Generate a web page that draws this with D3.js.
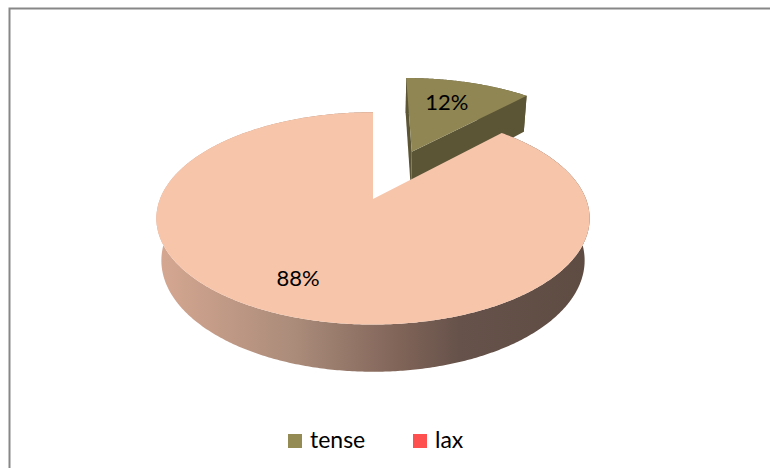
<!DOCTYPE html>
<html>
<head>
<meta charset="utf-8">
<script src="https://cdn.jsdelivr.net/npm/d3@7"></script>
<style>
  html, body { margin: 0; padding: 0; background: #fff; }
  svg { display: block; }
  text { font-family: Lato, "Open Sans", sans-serif; fill: #000; }
</style>
</head>
<body>
<svg id="chart" width="770" height="468"></svg>
<script>
// Share of vowel types
const categories = ["tense", "lax"];
const values = [12, 88];
const labels = ["12%", "88%"];
const topColors = ["#8F8654", "#F7C5AA"];
const legendColors = ["#948A54", "#FF5050"];

const W = 770, H = 468;
const svg = d3.select("#chart");

// Frame (only top and left edges fall inside the view)
svg.append("rect")
  .attr("x", 9.5).attr("y", 8.5)
  .attr("width", W + 20).attr("height", H + 20)
  .attr("fill", "none").attr("stroke", "#878787").attr("stroke-width", 2);

// 3D pie geometry: disc in (u, v) plane, z = height, seen from above with perspective
const cx = 373, cy = 199, R = 213;
const elev = 28.8 * Math.PI / 180;
const camDist = 4.8;     // camera distance in radius units
const depthH = 0.228;    // pie thickness in radius units
const explode = 0.54;    // exploded slice offset in radius units
const sE = Math.sin(elev), cE = Math.cos(elev);

function proj(u, v, z) {
  const up = -v * sE + z * cE;
  const depth = v * cE + z * sE;
  const k = camDist / (camDist - depth);
  return [cx + R * u * k, cy - R * up * k];
}
const dir = a => [Math.sin(a), -Math.cos(a)];

const pie = d3.pie().sort(null).value(d => d)(values);
const line = d3.line();

function arcPts(o, a0, a1, z, r = 1) {
  const n = Math.max(8, Math.ceil(Math.abs(a1 - a0) / 0.01));
  return d3.range(n + 1).map(i => {
    const a = a0 + (a1 - a0) * i / n;
    const [du, dv] = dir(a);
    return proj(o[0] + r * du, o[1] + r * dv, z);
  });
}

// Side gradient for the main slice wall
const xl = cx - R * 1.017, xr = cx + R * 1.017;
const defs = svg.append("defs");
const grad = defs.append("linearGradient").attr("id", "wallGrad")
  .attr("gradientUnits", "userSpaceOnUse")
  .attr("x1", xl).attr("x2", xr).attr("y1", 0).attr("y2", 0);
[[0, "#D6A892"], [0.33, "#A98A79"], [0.56, "#806458"], [0.70, "#66524A"], [1, "#5E4B42"]]
  .forEach(([o, c]) => grad.append("stop").attr("offset", o).attr("stop-color", c));

const g = svg.append("g");

// Exploded slice (tense) drawn first: it sits behind
{
  const p = pie[0];
  const mid = (p.startAngle + p.endAngle) / 2;
  const [mu, mv] = dir(mid);
  const o = [explode * mu, explode * mv];
  const dark = "#5B5536";
  // outer wall
  const wallTop = arcPts(o, p.startAngle, p.endAngle, 0);
  const wallBot = arcPts(o, p.startAngle, p.endAngle, -depthH).reverse();
  g.append("path").attr("d", line(wallTop.concat(wallBot)) + "Z").attr("fill", dark);
  // radial faces
  [p.startAngle, p.endAngle].forEach(a => {
    const [du, dv] = dir(a);
    const pts = [
      proj(o[0], o[1], 0), proj(o[0] + du, o[1] + dv, 0),
      proj(o[0] + du, o[1] + dv, -depthH), proj(o[0], o[1], -depthH)
    ];
    g.append("path").attr("d", line(pts) + "Z").attr("fill", dark);
  });
  // top face
  const topPts = [proj(o[0], o[1], 0)].concat(arcPts(o, p.startAngle, p.endAngle, 0));
  g.append("path").attr("d", line(topPts) + "Z").attr("fill", topColors[0]);
  const lp = proj(o[0] + 0.6 * mu, o[1] + 0.7 * mv, 0);
  g.append("text").attr("x", lp[0]).attr("y", lp[1])
    .attr("text-anchor", "middle").attr("dominant-baseline", "central")
    .attr("font-size", 22).text(labels[0]);
}

// Main slice (lax)
{
  const p = pie[1];
  const o = [0, 0];
  const wallTop = arcPts(o, p.startAngle, p.endAngle, 0);
  const wallBot = arcPts(o, p.startAngle, p.endAngle, -depthH).reverse();
  g.append("path").attr("d", line(wallTop.concat(wallBot)) + "Z").attr("fill", "url(#wallGrad)");
  const topPts = [proj(0, 0, 0)].concat(arcPts(o, p.startAngle, p.endAngle, 0));
  g.append("path").attr("d", line(topPts) + "Z").attr("fill", topColors[1]);
  const mid = (p.startAngle + p.endAngle) / 2;
  const [mu, mv] = dir(mid);
  const lp = proj(0.84 * mu, 0.72 * mv, 0);
  g.append("text").attr("x", lp[0]).attr("y", lp[1])
    .attr("text-anchor", "middle").attr("dominant-baseline", "central")
    .attr("font-size", 22).text(labels[1]);
}

// Legend
const legendX = d3.scalePoint().domain(categories).range([288, 413]);
const lg = svg.append("g");
categories.forEach((c, i) => {
  const x = legendX(c);
  lg.append("rect").attr("x", x).attr("y", 434).attr("width", 14).attr("height", 14)
    .attr("fill", legendColors[i]);
  lg.append("text").attr("x", x + 22).attr("y", 448)
    .attr("font-size", 23).text(c);
});
</script>
</body>
</html>
